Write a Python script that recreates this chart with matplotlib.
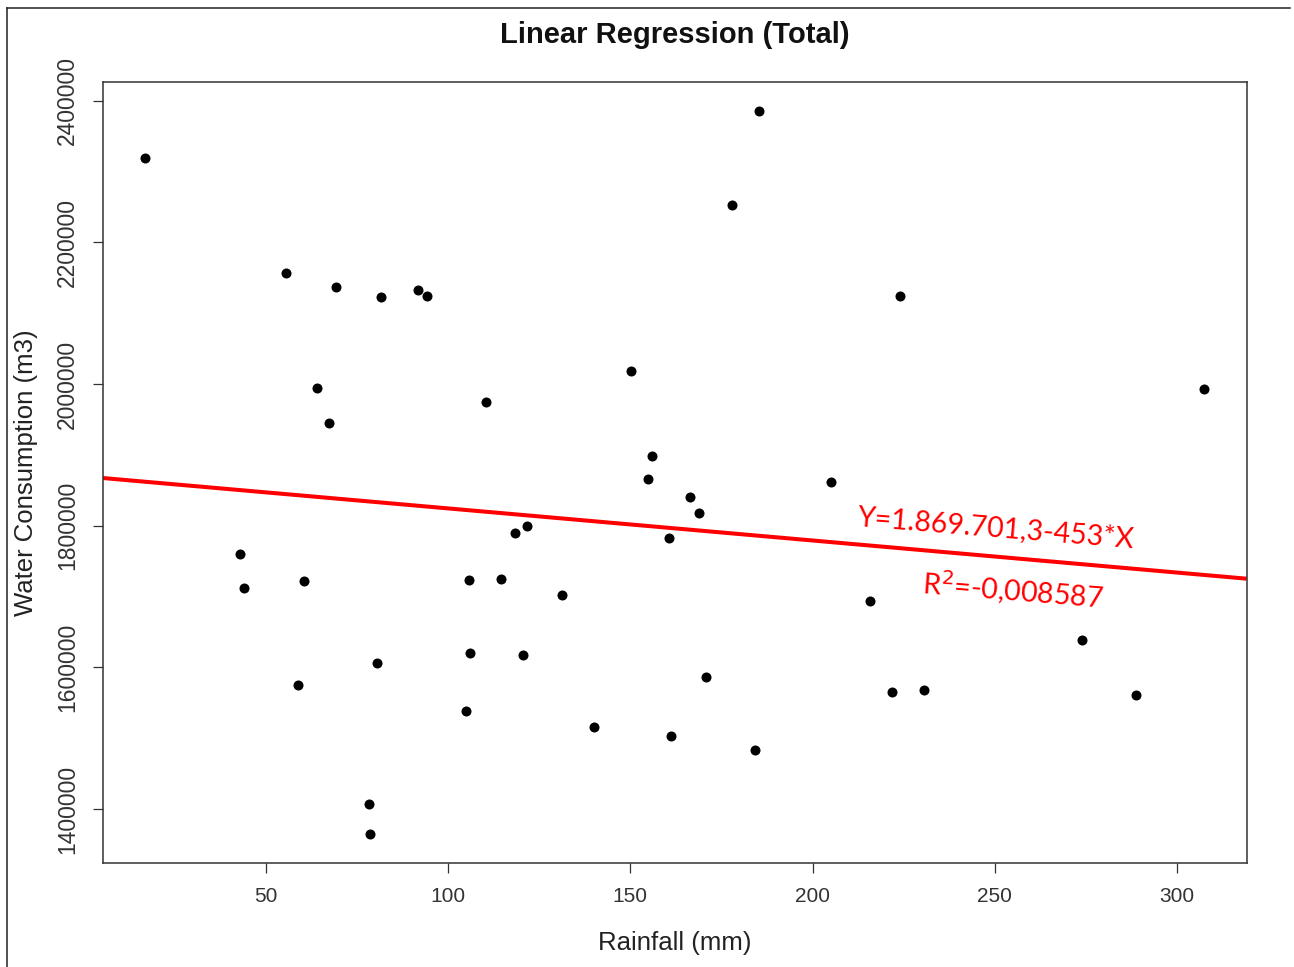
import matplotlib
matplotlib.use("Agg")
import matplotlib.pyplot as plt
from matplotlib.lines import Line2D

# Monthly rainfall (mm) and total water consumption (m3)
rainfall = [16.9, 185.2, 178.0, 55.5, 69.2, 81.5, 91.9, 94.3, 224.0, 64.1,
            67.4, 110.4, 150.1, 307.4, 156.0, 154.8, 166.4, 168.9, 205.1, 121.6,
            118.3, 160.5, 43.0, 44.0, 60.4, 105.8, 114.5, 131.3, 215.7, 80.4,
            106.0, 120.7, 58.9, 170.8, 221.8, 230.7, 273.9, 288.8, 104.9, 140.1,
            161.3, 184.3, 78.2, 78.7]
consumption = [2319100, 2385400, 2252700, 2157100, 2137000, 2122800, 2132700, 2124300,
               2123800, 1994800, 1945400, 1974600, 2018400, 1993400, 1898800, 1865900,
               1840500, 1818300, 1862100, 1799100, 1789700, 1783000, 1759600, 1712000,
               1721900, 1723700, 1725400, 1702100, 1694100, 1606500, 1620700, 1617000,
               1574600, 1585900, 1564800, 1568400, 1638600, 1560500, 1538400, 1516200,
               1503500, 1483300, 1407100, 1364300]

# Fitted line Y = a + b*X
intercept = 1869701.3
slope = -453.0

x_ticks = [50, 100, 150, 200, 250, 300]
y_ticks = [1400000, 1600000, 1800000, 2000000, 2200000, 2400000]

eq_label = "Y=1.869.701,3-453*X"
r2_label = "R$^2$=-0,008587"

W, H = 1294, 967
fig = plt.figure(figsize=(W / 100, H / 100), dpi=100)
fig.patch.set_facecolor("white")

ax = fig.add_axes([102.7 / W, 1 - 863.3 / H, (1246.7 - 102.7) / W, (863.3 - 82) / H])
xlim = (5.27, 319.1)
ax.set_xlim(*xlim)
ax.set_ylim(1323340, 2426400)

ax.scatter(rainfall, consumption, s=52, color="black", zorder=3, linewidths=0)
ax.plot(list(xlim), [intercept + slope * v for v in xlim], color="#ff0000",
        lw=2.9, zorder=2, solid_capstyle="butt")

font = "Liberation Sans"
ax.set_xticks(x_ticks)
ax.set_xticklabels([str(v) for v in x_ticks], fontsize=15, family=font, color="#333333")
ax.set_yticks(y_ticks)
ax.set_yticklabels([str(v) for v in y_ticks], fontsize=16.5, family=font, color="#333333",
                   rotation=90, va="center")
ax.tick_params(axis="both", direction="out", length=7.2, width=0.9, color="#333333")
ax.tick_params(axis="x", pad=10)
ax.tick_params(axis="y", pad=10)
for sp in ax.spines.values():
    sp.set_color("#333333")
    sp.set_linewidth(1.1)

ax.set_xlabel("Rainfall (mm)", fontsize=18.5, family=font, color="#222222", labelpad=18)
ax.set_ylabel("Water Consumption (m3)", fontsize=18.5, family=font, color="#222222", labelpad=13)
fig.text(674.7 / W, 1 - 35 / H, "Linear Regression (Total)", ha="center", va="center",
         fontsize=21, fontweight="bold", family=font, color="#111111")

# Regression annotations
ax.text(212.5, 1812250, eq_label, color="#ff0000", fontsize=20.5, family="Lato",
        rotation=-4.6, rotation_mode="anchor", ha="left", va="center")
ax.text(230.0, 1719070, r2_label, color="#ff0000", fontsize=20.5, family="Lato",
        rotation=-4.6, rotation_mode="anchor", ha="left", va="center")

# Outer frame (top and left edges)
fig.add_artist(Line2D([7 / W, 1290 / W], [1 - 8 / H, 1 - 8 / H], color="#222222", lw=1.1))
fig.add_artist(Line2D([7 / W, 7 / W], [1 - 8 / H, 0], color="#222222", lw=1.1))

fig.savefig("out.png", dpi=100, facecolor="white")
